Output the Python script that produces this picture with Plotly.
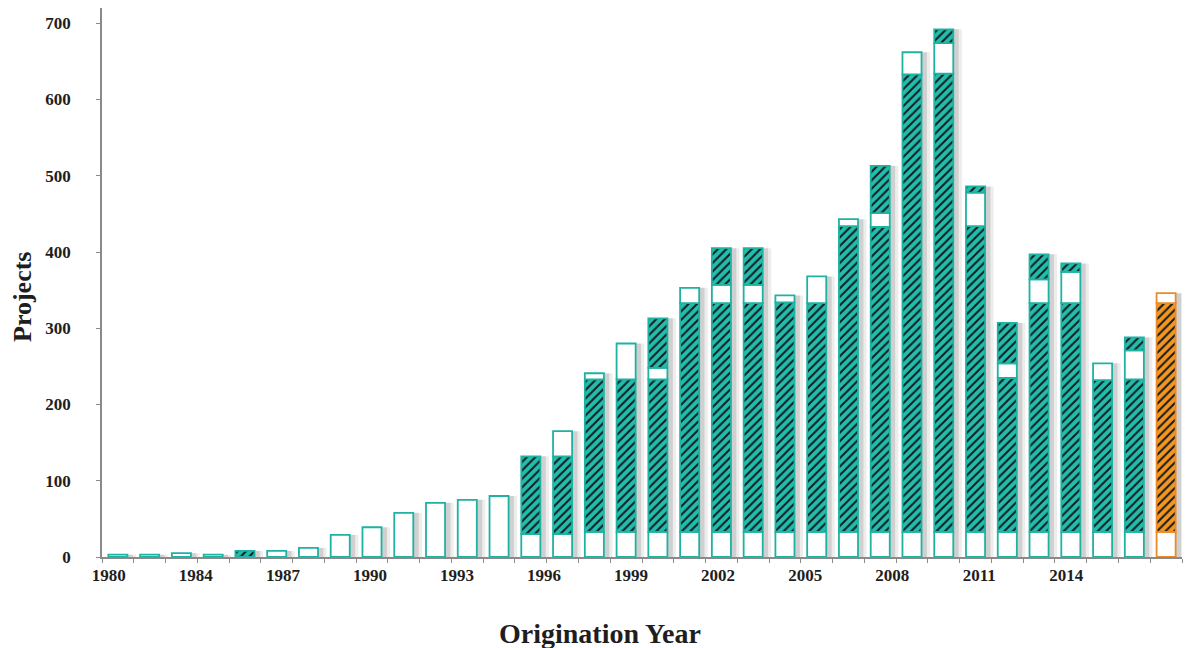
import numpy as np
import plotly.graph_objects as go

# Year labels printed along the horizontal axis
year_labels = ["1980", "1984", "1987", "1990", "1993", "1996",
               "1999", "2002", "2005", "2008", "2011", "2014"]

# Stacked bar segments, bottom to top (project counts)
white_base = [3, 3, 5, 3, 0, 8, 12, 29, 39, 58, 71, 75, 80,
              30, 30, 33, 33, 33, 33, 33, 33, 33, 33, 33, 33,
              33, 33, 33, 33, 33, 33, 33, 33, 33]
hatched_low = [0, 0, 0, 0, 8, 0, 0, 0, 0, 0, 0, 0, 0,
               102, 102, 200, 200, 200, 300, 300, 300, 301, 300, 401, 400,
               600, 601, 401, 202, 300, 300, 199, 200, 300]
white_mid = [0, 0, 0, 0, 0, 0, 0, 0, 0, 0, 0, 0, 0,
             0, 33, 8, 47, 15, 20, 24, 24, 9, 35, 9, 18,
             29, 40, 44, 19, 31, 41, 22, 38, 13]
hatched_top = [0, 0, 0, 0, 0, 0, 0, 0, 0, 0, 0, 0, 0,
               0, 0, 0, 0, 65, 0, 48, 48, 0, 0, 0, 62,
               0, 18, 8, 53, 33, 11, 0, 17, 0]
# Colour group of each bar: the latest bar is highlighted
bar_group = ["main"] * 33 + ["latest"]

PALETTE = {
    "main": dict(fill="#22bdad", line="#1fb2a3"),
    "latest": dict(fill="#f6961f", line="#eb8a2a"),
}
TEXT = "#1e1e1e"
AXIS = "#8a8a8a"
FONT = "Liberation Serif"

n = len(white_base)
x = np.arange(n)
segments = np.array([white_base, hatched_low, white_mid, hatched_top], dtype=float)
bases = np.vstack([np.zeros(n), np.cumsum(segments, axis=0)[:-1]])
totals = segments.sum(axis=0)
groups = np.array(bar_group)

W = 0.6  # bar width in category units

fig = go.Figure()

# soft drop shadow to the right of each bar
for shift, alpha in [(0.27, 0.07), (0.17, 0.12)]:
    fig.add_trace(go.Bar(
        x=x, y=totals, width=W, offset=-W / 2 + shift,
        marker=dict(color=f"rgba(0,0,0,{alpha})", line=dict(width=0)),
        hoverinfo="skip", showlegend=False,
    ))

for grp, col in PALETTE.items():
    mask = groups == grp
    for i, (vals, base) in enumerate(zip(segments, bases)):
        keep = mask & (vals > 0)
        if not keep.any():
            continue
        hatched = i % 2 == 1
        marker = dict(line=dict(color=col["line"], width=1.8))
        if hatched:
            marker["color"] = col["fill"]
            marker["pattern"] = dict(shape="/", fgcolor="#0f1a1c",
                                     bgcolor=col["fill"], size=6,
                                     solidity=0.33, fillmode="replace")
        else:
            marker["color"] = "white"
        fig.add_trace(go.Bar(
            x=x[keep], y=vals[keep], base=base[keep], width=W, offset=-W / 2,
            marker=marker, hoverinfo="skip", showlegend=False,
        ))

# carrier for the year-label axis
fig.add_trace(go.Scatter(x=[], y=[], xaxis="x3", yaxis="y",
                         mode="markers", showlegend=False, hoverinfo="skip"))

tick_font = dict(family=FONT, size=17, color=TEXT, weight="bold")

fig.update_layout(
    width=1187, height=648,
    margin=dict(l=102, r=5, t=8, b=91),
    paper_bgcolor="white", plot_bgcolor="white",
    barmode="overlay",
    showlegend=False,
    xaxis=dict(
        range=[-0.5, n - 0.5],
        tickmode="array", tickvals=list(np.arange(n + 1) - 0.5),
        showticklabels=False,
        ticks="outside", ticklen=4, tickcolor=AXIS, tickwidth=1,
        showline=True, linecolor=AXIS, linewidth=1.5,
        showgrid=False, zeroline=False, fixedrange=True,
    ),
    xaxis3=dict(
        overlaying="x", anchor="y", side="bottom",
        range=[-0.078, 12.329],
        tickmode="array", tickvals=list(range(len(year_labels))),
        ticktext=year_labels, ticks="",
        tickfont=tick_font, ticklabelstandoff=6,
        showline=False, showgrid=False, zeroline=False, fixedrange=True,
    ),
    yaxis=dict(
        range=[0, 720],
        tickmode="array", tickvals=list(range(0, 701, 100)),
        ticks="outside", ticklen=4, tickcolor=AXIS, tickwidth=1,
        tickfont=tick_font, ticklabelstandoff=22,
        showline=True, linecolor=AXIS, linewidth=1.5,
        showgrid=False, zeroline=False, fixedrange=True,
    ),
    annotations=[
        dict(text="Origination Year", xref="paper", yref="paper",
             x=(600 - 102) / 1080, y=(557 - 633) / 549,
             xanchor="center", yanchor="middle", showarrow=False,
             font=dict(family=FONT, size=28, color=TEXT, weight="bold")),
        dict(text="Projects", xref="paper", yref="paper",
             x=(22 - 102) / 1080, y=(557 - 297) / 549, textangle=-90,
             xanchor="center", yanchor="middle", showarrow=False,
             font=dict(family=FONT, size=26, color=TEXT, weight="bold")),
    ],
)

fig.write_html("out.html")
